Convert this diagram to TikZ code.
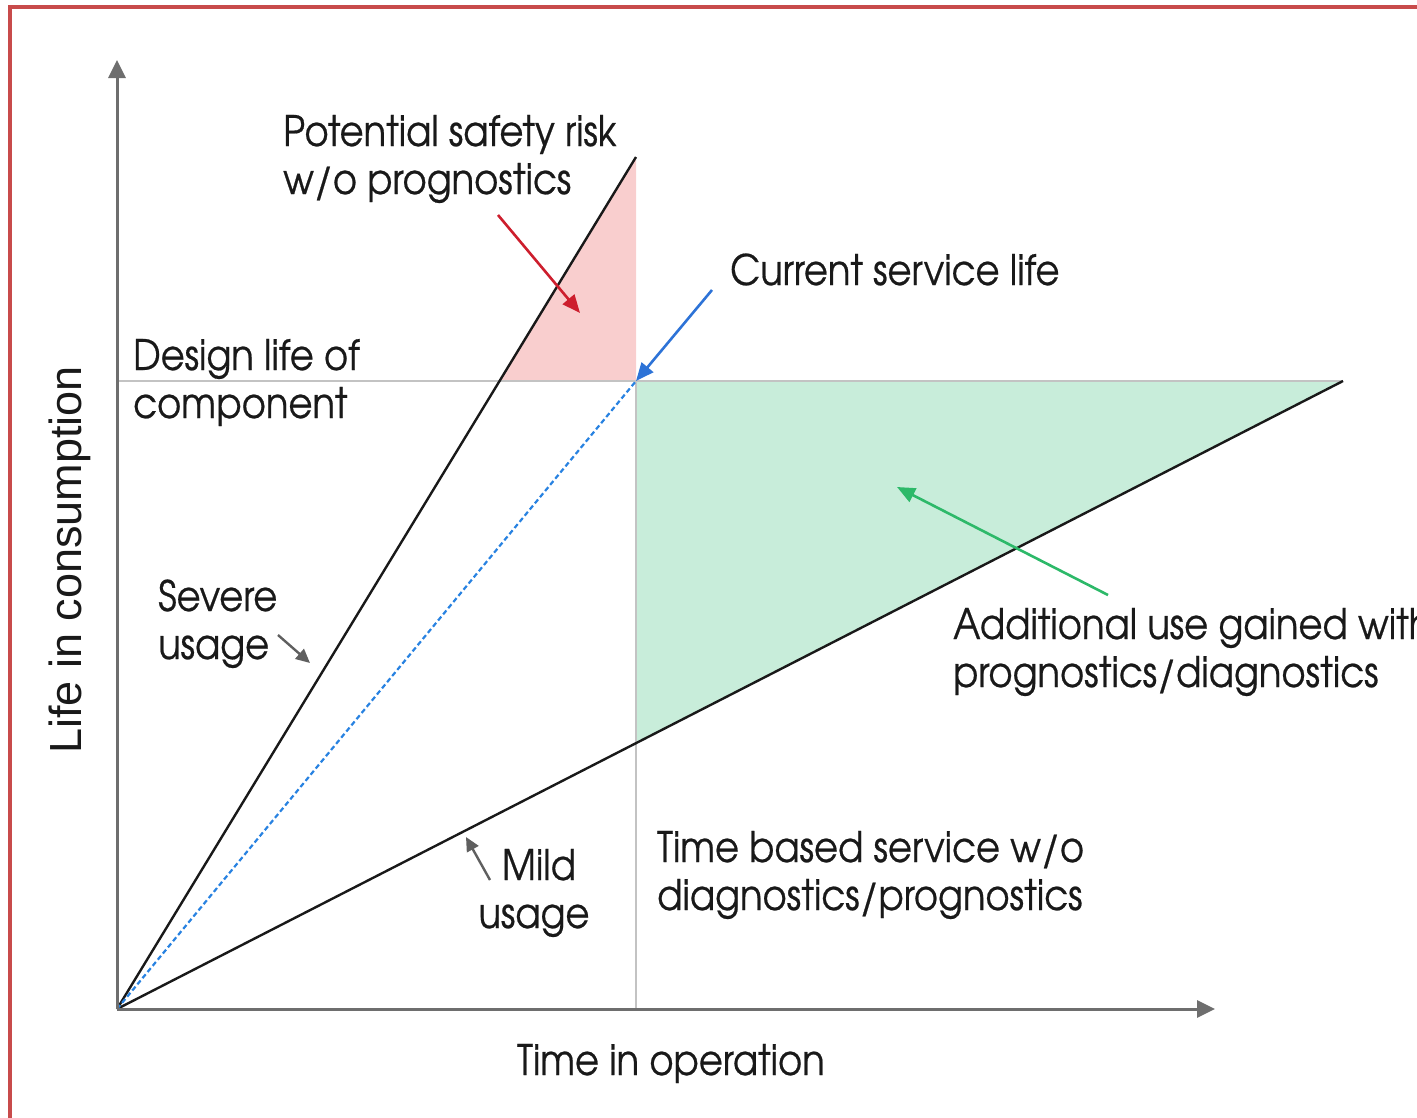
\documentclass[tikz,border=0pt]{standalone}
\usepackage{fontspec}
\setmainfont[FakeStretch=0.88, FakeBold=0.5]{texgyreadventor-regular.otf}
\newfontfamily\axisfont{Liberation Sans}
\usetikzlibrary{arrows.meta}
\definecolor{framered}{RGB}{200,75,75}
\definecolor{axisgray}{RGB}{110,110,110}
\definecolor{guidegray}{RGB}{195,195,195}
\definecolor{riskfill}{RGB}{249,206,206}
\definecolor{gainfill}{RGB}{200,237,218}
\definecolor{riskred}{RGB}{205,30,45}
\definecolor{lifeblue}{RGB}{45,115,215}
\definecolor{gaingreen}{RGB}{45,185,105}
\definecolor{dashblue}{RGB}{40,130,225}
\definecolor{inkblack}{RGB}{25,25,25}
\definecolor{pointgray}{RGB}{95,95,95}
\begin{document}
\begin{tikzpicture}[x=1pt,y=-1pt,
  lbl/.style={font=\fontsize{42}{48}\selectfont, inner sep=0pt, align=left, text=inkblack},
  axisline/.style={draw=axisgray, line width=3pt, -{Triangle[length=18pt,width=17pt]}},
  usageline/.style={draw=inkblack, line width=2.4pt},
  guideline/.style={draw=guidegray, line width=1.5pt},
  callout/.style={line width=2.6pt, -{Triangle[length=18pt,width=15pt]}},
  smallpointer/.style={draw=pointgray, line width=2.4pt, -{Triangle[length=14pt,width=13pt]}}
]
\useasboundingbox (0,0) rectangle (1417,1117);
% frame
\draw[framered, line width=4pt] (10,1120) -- (10,7) -- (1420,7);

% key points
\coordinate (O) at (117,1009);
\coordinate (Ytop) at (117,60);
\coordinate (Xend) at (1215,1009);
\coordinate (S) at (636,157);
\coordinate (M) at (1343,381);
\coordinate (C) at (636,381);
\coordinate (D) at (117,381);
\coordinate (R) at (499.4,381);
\coordinate (V) at (636,742.6);
\coordinate (Vb) at (636,1009);

% fills
\fill[riskfill] (R) -- (C) -- (S) -- cycle;
\fill[gainfill] (C) -- (M) -- (V) -- cycle;

% guides
\draw[guideline] (D) -- (M);
\draw[guideline] (C) -- (Vb);

% usage lines
\draw[usageline] (O) -- (S);
\draw[usageline] (O) -- (M);
\draw[dashblue, line width=2.2pt, dash pattern=on 5pt off 3pt] (O) -- (C);

% axes
\draw[axisline] (O) -- (Ytop);
\draw[axisline] (O) -- (Xend);

% labels (anchor = baseline of the last line)
\node[lbl, anchor=base west] (risk) at (283,194) {Potential safety risk\\w/o prognostics};
\node[lbl, anchor=base west] (current) at (730,285) {Current service life};
\node[lbl, anchor=base west] (design) at (133,418) {Design life of\\component};
\node[lbl, anchor=base west] (severe) at (158,659) {Severe\\usage};
\node[lbl, anchor=base west] (gain) at (953,687) {Additional use gained with\\prognostics/diagnostics};
\node[lbl, anchor=base, align=center] (mild) at (534,928) {\hspace*{10pt}Mild\\usage};
\node[lbl, anchor=base west] (timebased) at (657,910) {Time based service w/o\\diagnostics/prognostics};
\node[lbl, anchor=base] (xlabel) at (671,1075) {Time in operation};
\node[font=\axisfont\fontsize{45}{45}\selectfont, text=inkblack, inner sep=0pt, rotate=90] (ylabel) at (70,560) {Life in consumption};

% callout arrows
\coordinate (ra1) at (498,215);
\coordinate (ra2) at (580,313);
\draw[callout, riskred] (ra1) -- (ra2);
\coordinate (ba1) at (712,290);
\draw[callout, lifeblue] (ba1) -- (C);
\coordinate (ga1) at (1108,595);
\coordinate (ga2) at (897,487);
\draw[callout, gaingreen] (ga1) -- (ga2);
\coordinate (sa1) at (278,635);
\coordinate (sa2) at (310,663);
\draw[smallpointer] (sa1) -- (sa2);
\coordinate (ma1) at (490,880);
\coordinate (ma2) at (466,837);
\draw[smallpointer] (ma1) -- (ma2);
\end{tikzpicture}
\end{document}
